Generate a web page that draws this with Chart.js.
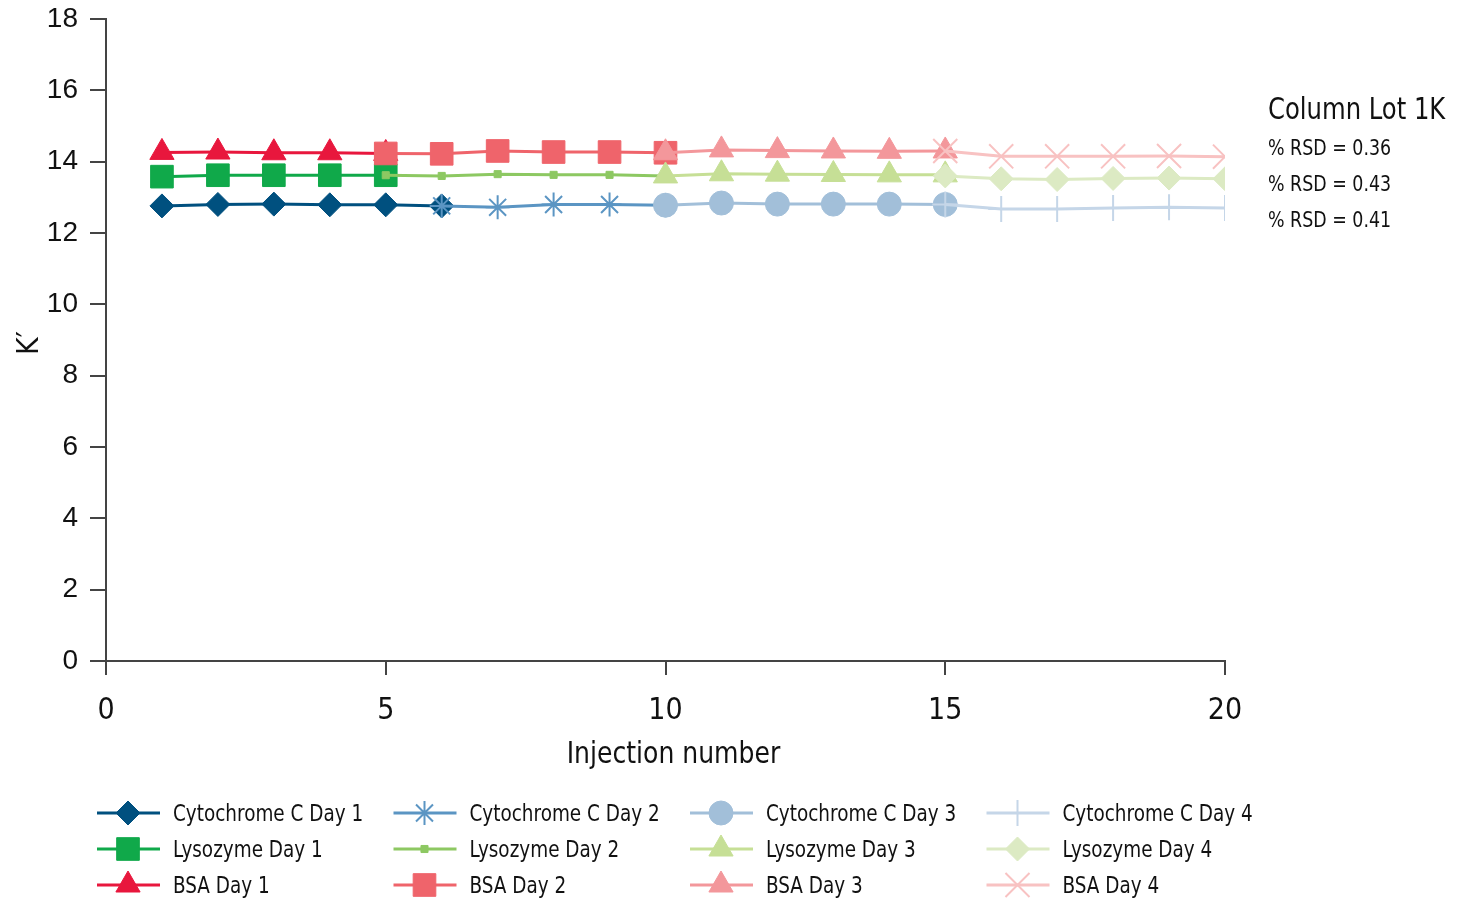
<!DOCTYPE html>
<html>
<head>
<meta charset="utf-8">
<script src="https://cdn.jsdelivr.net/npm/chart.js@4.4.1/dist/chart.umd.min.js"></script>
<style>
  html, body { margin: 0; padding: 0; background: #fff; }
  #wrap { width: 1461px; height: 899px; position: relative; }
</style>
</head>
<body>
<div id="wrap"><canvas id="kChart"></canvas></div>
<script>
// K' per injection, one series per compound and day
const cytoDay1X = [1, 2, 3, 4, 5, 6];
const cytoDay1 = [12.76, 12.80, 12.81, 12.79, 12.79, 12.76];
const cytoDay2X = [6, 7, 8, 9, 10];
const cytoDay2 = [12.76, 12.72, 12.80, 12.80, 12.78];
const cytoDay3X = [10, 11, 12, 13, 14, 15];
const cytoDay3 = [12.78, 12.84, 12.81, 12.81, 12.81, 12.80];
const cytoDay4X = [15, 16, 17, 18, 19, 20];
const cytoDay4 = [12.80, 12.67, 12.67, 12.70, 12.72, 12.70];

const lysoDay1X = [1, 2, 3, 4, 5];
const lysoDay1 = [13.58, 13.62, 13.62, 13.62, 13.62];
const lysoDay2X = [5, 6, 7, 8, 9, 10];
const lysoDay2 = [13.62, 13.60, 13.65, 13.63, 13.63, 13.60];
const lysoDay3X = [10, 11, 12, 13, 14, 15];
const lysoDay3 = [13.60, 13.66, 13.65, 13.64, 13.63, 13.63];
const lysoDay4X = [15, 16, 17, 18, 19, 20];
const lysoDay4 = [13.60, 13.52, 13.50, 13.53, 13.54, 13.52];

const bsaDay1X = [1, 2, 3, 4, 5];
const bsaDay1 = [14.26, 14.27, 14.25, 14.25, 14.23];
const bsaDay2X = [5, 6, 7, 8, 9, 10];
const bsaDay2 = [14.23, 14.22, 14.30, 14.27, 14.27, 14.25];
const bsaDay3X = [10, 11, 12, 13, 14, 15];
const bsaDay3 = [14.25, 14.33, 14.31, 14.30, 14.29, 14.30];
const bsaDay4X = [15, 16, 17, 18, 19, 20];
const bsaDay4 = [14.30, 14.15, 14.15, 14.15, 14.16, 14.14];

const xTicks = [0, 5, 10, 15, 20];
const yTicks = [0, 2, 4, 6, 8, 10, 12, 14, 16, 18];

const annotTitle = 'Column Lot 1K';
const rsdLabels = ['% RSD = 0.36', '% RSD = 0.43', '% RSD = 0.41'];

const NARROW = "'Liberation Sans Narrow', 'DejaVu Sans Condensed', 'Roboto', sans-serif";
const REGULAR = "'Liberation Sans', Arial, sans-serif";

function pts(xs, ys) {
    return xs.map((x, i) => ({ x: x, y: ys[i] }));
}

function series(label, xs, ys, color, style, radius, bw, day) {
    return {
        label: label,
        data: pts(xs, ys),
        borderColor: color,
        backgroundColor: color,
        borderWidth: 3,
        pointStyle: style,
        pointRadius: radius,
        pointHoverRadius: radius,
        pointBorderWidth: bw,
        pointBorderColor: color,
        pointBackgroundColor: color,
        tension: 0,
        order: 4 - day
    };
}

const datasets = [
    series('Cytochrome C Day 1', cytoDay1X, cytoDay1, '#00507f', 'rectRot', 12, 1, 1),
    series('Cytochrome C Day 2', cytoDay2X, cytoDay2, '#5b95c3', 'star', 12, 2, 2),
    series('Cytochrome C Day 3', cytoDay3X, cytoDay3, '#a2bfd9', 'circle', 12, 1, 3),
    series('Cytochrome C Day 4', cytoDay4X, cytoDay4, '#c5d6e8', 'cross', 13, 2, 4),
    series('Lysozyme Day 1', lysoDay1X, lysoDay1, '#10a94a', 'rect', 16, 1, 1),
    series('Lysozyme Day 2', lysoDay2X, lysoDay2, '#8dc862', 'rect', 5, 1, 2),
    series('Lysozyme Day 3', lysoDay3X, lysoDay3, '#c6df96', 'triangle', 14, 1, 3),
    series('Lysozyme Day 4', lysoDay4X, lysoDay4, '#dceac3', 'rectRot', 12, 1, 4),
    series('BSA Day 1', bsaDay1X, bsaDay1, '#e8173d', 'triangle', 14, 1, 1),
    series('BSA Day 2', bsaDay2X, bsaDay2, '#ef646b', 'rect', 16, 1, 2),
    series('BSA Day 3', bsaDay3X, bsaDay3, '#f3979b', 'triangle', 14, 1, 3),
    series('BSA Day 4', bsaDay4X, bsaDay4, '#f8c2c2', 'crossRot', 17, 2, 4)
];

// condensed text: squeeze horizontally around the anchor point
function narrowText(ctx, text, x, y, sx) {
    ctx.save();
    ctx.translate(x, y);
    ctx.scale(sx, 1);
    ctx.fillText(text, 0, 0);
    ctx.restore();
}

// titles, annotation and the 4-column legend are painted after the chart
const overlay = {
    id: 'overlay',
    afterDraw(chart) {
        const ctx = chart.ctx;
        const area = chart.chartArea;
        ctx.save();
        ctx.fillStyle = '#111';
        ctx.textBaseline = 'middle';

        // axis titles
        ctx.textAlign = 'center';
        ctx.font = '30px ' + NARROW;
        narrowText(ctx, 'Injection number', (area.left + area.right) / 2 + 8, area.bottom + 94, 0.93);
        ctx.save();
        ctx.translate(30, 343);
        ctx.rotate(-Math.PI / 2);
        ctx.fillText('K\u2032', 0, 0);
        ctx.restore();

        // annotation block
        ctx.textAlign = 'left';
        ctx.font = '30px ' + NARROW;
        narrowText(ctx, annotTitle, area.right + 43, 111, 0.9);
        ctx.font = '22px ' + NARROW;
        rsdLabels.forEach((t, i) => narrowText(ctx, t, area.right + 43, 149 + i * 36, 0.88));

        // legend
        ctx.font = '23px ' + NARROW;
        chart.data.datasets.forEach((ds, i) => {
            const row = Math.floor(i / 4);
            const col = i % 4;
            const x0 = 97 + col * 296.5;
            const y = 813 + row * 36;
            ctx.strokeStyle = ds.borderColor;
            ctx.fillStyle = ds.borderColor;
            ctx.lineWidth = 3;
            ctx.beginPath();
            ctx.moveTo(x0, y);
            ctx.lineTo(x0 + 63, y);
            ctx.stroke();
            ctx.lineWidth = ds.pointBorderWidth;
            Chart.helpers.drawPoint(ctx, {
                pointStyle: ds.pointStyle,
                radius: ds.pointRadius,
                borderWidth: ds.pointBorderWidth,
                rotation: 0
            }, x0 + 31, y);
            ctx.fillStyle = '#111';
            narrowText(ctx, ds.label, x0 + 76, y + 2, 0.89);
        });
        ctx.restore();
    }
};

new Chart(document.getElementById('kChart').getContext('2d'), {
    type: 'line',
    data: { datasets: datasets },
    plugins: [overlay],
    options: {
        responsive: true,
        maintainAspectRatio: false,
        animation: false,
        layout: { padding: { left: 0, top: 17, right: 236, bottom: 178 } },
        plugins: {
            legend: { display: false },
            tooltip: { enabled: false }
        },
        scales: {
            x: {
                type: 'linear',
                min: 0,
                max: 20,
                afterBuildTicks: (s) => { s.ticks = xTicks.map(v => ({ value: v })); },
                afterFit: (s) => { s.height = 60; s.paddingLeft = 0; s.paddingRight = 0; },
                ticks: {
                    color: '#111',
                    padding: 18,
                    font: { family: NARROW, size: 30 }
                },
                grid: {
                    drawOnChartArea: false,
                    drawTicks: true,
                    tickLength: 14,
                    color: '#444',
                    lineWidth: 2
                },
                border: { display: true, color: '#444', width: 2 }
            },
            y: {
                min: 0,
                max: 18,
                afterBuildTicks: (s) => { s.ticks = yTicks.map(v => ({ value: v })); },
                afterFit: (s) => { s.width = 106; s.paddingTop = 0; s.paddingBottom = 0; },
                ticks: {
                    color: '#111',
                    padding: 12,
                    font: { family: REGULAR, size: 28 }
                },
                grid: {
                    drawOnChartArea: false,
                    drawTicks: true,
                    tickLength: 16,
                    color: '#444',
                    lineWidth: 2
                },
                border: { display: true, color: '#444', width: 2 }
            }
        }
    }
});
</script>
</body>
</html>
